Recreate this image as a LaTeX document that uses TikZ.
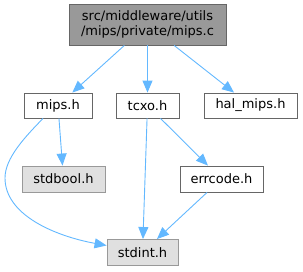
\documentclass[tikz,border=0pt]{standalone}
\usepackage{fontspec}
\setmainfont{DejaVu Sans}
\usepackage{tikz}
\usetikzlibrary{arrows.meta, calc}
\definecolor{edgeblue}{HTML}{63B8FF}
\definecolor{rootfill}{HTML}{999999}
\definecolor{rootline}{HTML}{666666}
\definecolor{sysfill}{HTML}{E0E0E0}
\definecolor{sysline}{HTML}{999999}

\begin{document}
\begin{tikzpicture}[
    x=1pt, y=-1pt,
    >={Triangle[length=12pt, width=10pt]},
    font=\fontsize{13}{15.5}\selectfont,
    filebox/.style={draw=rootline, fill=white, line width=0.9pt, inner sep=0pt, minimum height=25pt},
    rootbox/.style={filebox, fill=rootfill, align=center, minimum width=157pt, minimum height=41pt},
    sysbox/.style={filebox, draw=sysline, fill=sysfill, minimum height=26pt},
    dep/.style={->, edgeblue, line width=0.9pt},
]
    \useasboundingbox (0,0) rectangle (303,271);

    % --- nodes ---
    \node[rootbox] (mipsc) at (147.5, 24.5) {src/middleware/utils\\/mips/private/mips.c};
    \node[filebox, minimum width=68pt] (mipsh) at (58, 105.5) {mips.h};
    \node[filebox, minimum width=63pt] (tcxoh) at (147.5, 105.5) {tcxo.h};
    \node[filebox, minimum width=93pt] (halmipsh) at (250.5, 105.5) {hal\_mips.h};
    \node[sysbox, minimum width=83pt] (stdboolh) at (63.5, 179) {stdbool.h};
    \node[filebox, minimum width=83pt, minimum height=26pt] (errcodeh) at (221.5, 179) {errcode.h};
    \node[sysbox, minimum width=71pt] (stdinth) at (142.5, 252.5) {stdint.h};

    % --- includes ---
    \draw[dep] (mipsc) -- (mipsh);
    \draw[dep] (mipsc) -- (tcxoh);
    \draw[dep] (mipsc) -- (halmipsh);
    \draw[dep] (mipsh) -- (stdboolh);
    \draw[dep] ($(mipsh.south)+(-15,0)$) .. controls (25,137) and (5,158) .. (5,178)
        .. controls (5,215) and (55,236) .. ($(stdinth.west)+(0,-7)$);
    \draw[dep] (tcxoh) -- (stdinth);
    \draw[dep] (tcxoh) -- (errcodeh);
    \draw[dep] (errcodeh) -- (stdinth);
\end{tikzpicture}
\end{document}
